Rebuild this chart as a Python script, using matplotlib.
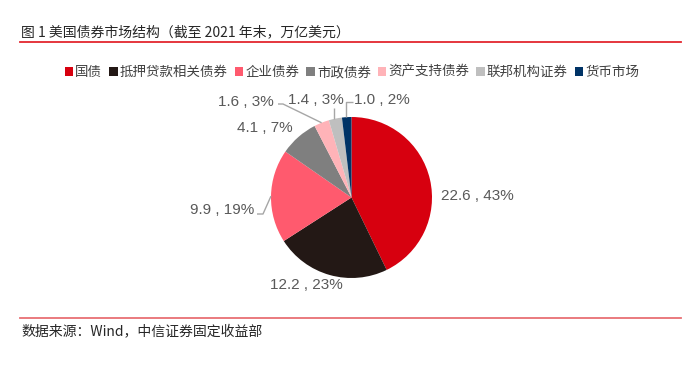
import matplotlib
matplotlib.use("Agg")
import matplotlib.pyplot as plt
from matplotlib.patches import Patch
from matplotlib.lines import Line2D
import numpy as np

categories = ["国债", "抵押贷款相关债券", "企业债券", "市政债券", "资产支持债券", "联邦机构证券", "货币市场"]
values = [22.6, 12.2, 9.9, 4.1, 1.6, 1.4, 1.0]
pct_labels = ["43%", "23%", "19%", "7%", "3%", "3%", "2%"]
colors = ["#D7000F", "#231815", "#FF5A6E", "#7F7F7F", "#FFB3B8", "#BFBFBF", "#003366"]

title = "图 1 美国债券市场结构（截至 2021 年末，万亿美元）"
source = "数据来源：Wind，中信证券固定收益部"

W, H = 700, 383
CJK = ["Noto Sans CJK SC", "DejaVu Sans"]

fig = plt.figure(figsize=(W / 100, H / 100), dpi=100)
fig.patch.set_facecolor("white")
ax = fig.add_axes([0, 0, 1, 1])

def py(y):
    return H - y

cx, cy, r = 351.5, py(197.5), 80.5
wedges, _ = ax.pie(values, colors=colors, startangle=90, counterclock=False,
                   center=(cx, cy), radius=r, wedgeprops=dict(linewidth=0))
ax.set_xlim(0, W)
ax.set_ylim(0, H)
ax.set_aspect("auto")
ax.axis("off")

# label text centers (pixel coords)
label_pos = [(477, 196), (306, 285), (222, 210), (265, 128), (246, 102), (316, 100), (382, 100)]
# leader lines: start point and elbow (pixel coords), end at wedge rim
leaders = {
    2: [(257, 214), (263, 214)],
    4: [(278, 104), (283, 104)],
    5: [(334, 108)],
    6: [(353, 102), (346, 102)],
}
lab_color = "#595959"
for i, (w, v, p) in enumerate(zip(wedges, values, pct_labels)):
    txt = f"{v:.1f} , {p}"
    lx, ly = label_pos[i]
    ax.text(lx, py(ly), txt, ha="center", va="center", fontsize=11,
            color=lab_color, family="Liberation Sans")
    if i in leaders:
        ang = np.deg2rad((w.theta1 + w.theta2) / 2)
        ex = w.center[0] + w.r * np.cos(ang)
        ey = w.center[1] + w.r * np.sin(ang)
        pts = leaders[i]
        xs = [q[0] for q in pts]
        ys = [py(q[1]) for q in pts]
        if i in (5, 6):
            xs.append(xs[-1])
            ys.append(ey)
        else:
            xs.append(ex)
            ys.append(ey)
        ax.plot(xs, ys, color="#A6A6A6", lw=1.0, solid_capstyle="butt")

# title and rules
fig.text(21 / W, 1 - 32 / H, title, ha="left", va="center", fontsize=10,
         color="#262626", family=CJK)
fig.add_artist(Line2D([20 / W, 681 / W], [1 - 42 / H] * 2, color="#E3262E", lw=1.3))
fig.add_artist(Line2D([20 / W, 681 / W], [1 - 318 / H] * 2, color="#E87074", lw=1.3))
fig.text(21 / W, 1 - 331 / H, source, ha="left", va="center", fontsize=10,
         color="#262626", family=CJK)

handles = [Patch(facecolor=c, edgecolor="none") for c in colors]
leg = fig.legend(handles, categories, loc="center", bbox_to_anchor=(352 / W, 1 - 72 / H),
                 ncol=7, frameon=False, handlelength=0.65, handleheight=0.65,
                 handletextpad=0.15, columnspacing=0.5, borderpad=0,
                 prop=dict(family=CJK, size=9.7))
for t in leg.get_texts():
    t.set_color("#404040")

fig.savefig("out.png", dpi=100, facecolor="white")
